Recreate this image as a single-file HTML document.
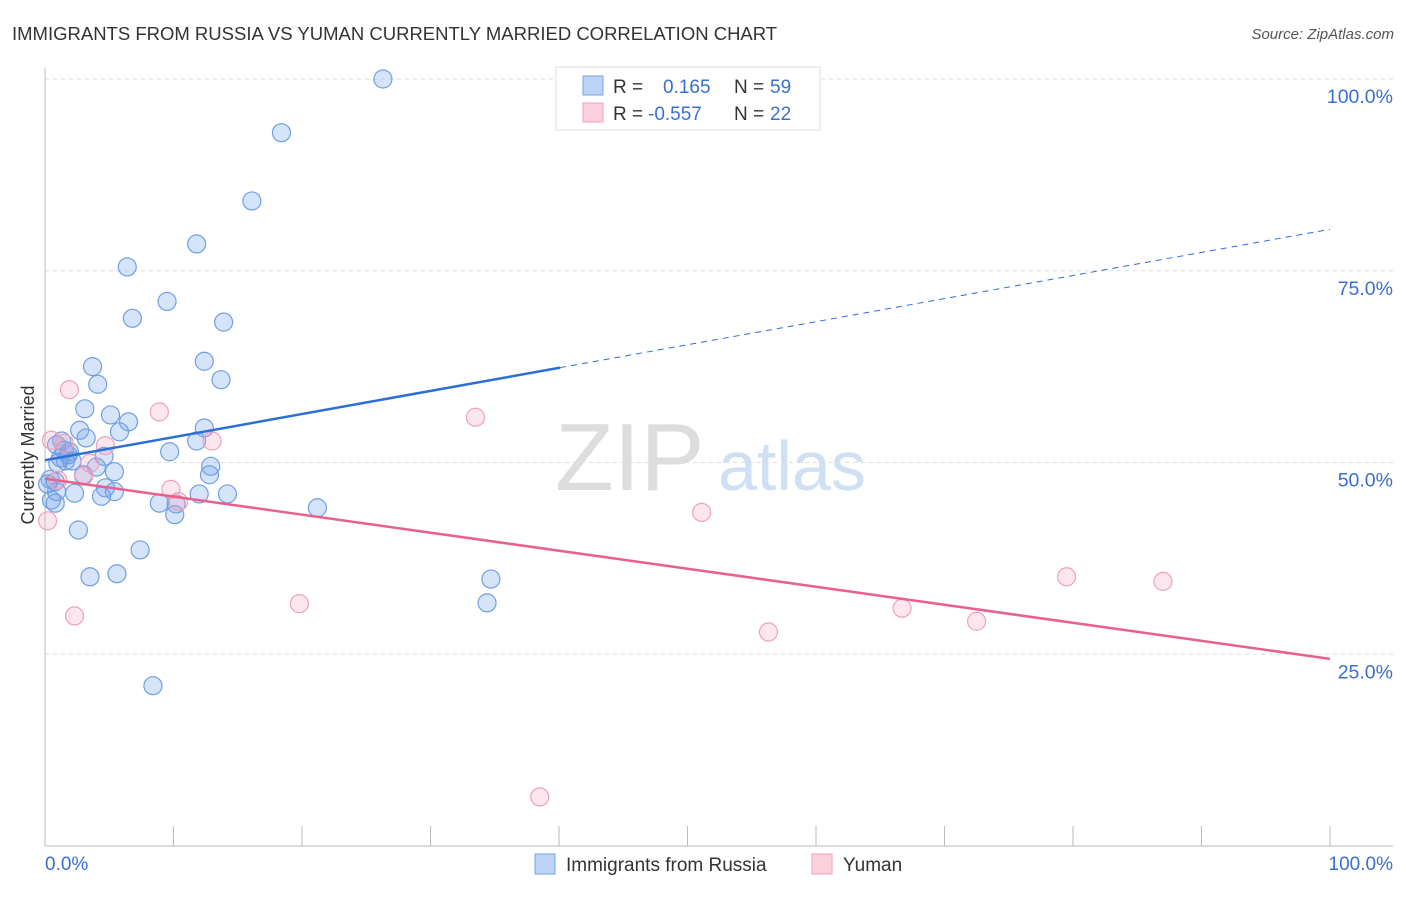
<!DOCTYPE html>
<html><head><meta charset="utf-8"><style>
body{margin:0;background:#fff;font-family:"Liberation Sans",sans-serif}
svg text{font-family:"Liberation Sans",sans-serif}
</style></head><body>
<svg id="c" width="1406" height="892">
<text x="12" y="40" font-size="18.5" fill="#333">IMMIGRANTS FROM RUSSIA VS YUMAN CURRENTLY MARRIED CORRELATION CHART</text>
<text x="1394" y="39" font-size="15" fill="#555" font-style="italic" text-anchor="end">Source: ZipAtlas.com</text>
<text x="555" y="490" font-size="96" fill="#ddd" font-family="Liberation Serif">ZIP</text>
<text x="718" y="490" font-size="70" fill="#cfe0f4">atlas</text>
<g id="grid"></g><g id="pts"></g><g id="lines"></g>
<text transform="translate(34,455) rotate(-90)" font-size="18" fill="#333" text-anchor="middle">Currently Married</text>
<text x="45" y="870" font-size="19" fill="#3a6fd0">0.0%</text>
<text x="1393" y="870" font-size="19" fill="#3a6fd0" text-anchor="end">100.0%</text>
<g>
<rect x="556" y="67" width="264" height="63" fill="#fff" stroke="#ddd"/>
<rect x="583" y="76" width="20" height="19" fill="#bcd4f4" stroke="#7aa4e4"/>
<rect x="583" y="103" width="20" height="19" fill="#fbd0dc" stroke="#f0a0b8"/>
<text x="613" y="93" font-size="19" fill="#333">R =</text><text x="663" y="93" font-size="19" fill="#3a6fd0">0.165</text>
<text x="734" y="93" font-size="19" fill="#333">N =</text><text x="770" y="93" font-size="19" fill="#3a6fd0">59</text>
<text x="613" y="120" font-size="19" fill="#333">R =</text><text x="648" y="120" font-size="19" fill="#3a6fd0">-0.557</text>
<text x="734" y="120" font-size="19" fill="#333">N =</text><text x="770" y="120" font-size="19" fill="#3a6fd0">22</text>
</g>
<g>
<rect x="535" y="854" width="20" height="20" fill="#bcd4f4" stroke="#7aa4e4"/>
<text x="566" y="871" font-size="19" fill="#333">Immigrants from Russia</text>
<rect x="812" y="854" width="20" height="20" fill="#fbd0dc" stroke="#f0a0b8"/>
<text x="843" y="871" font-size="19" fill="#333">Yuman</text>
</g>
</svg>
<script>
const blueX=[26.3,18.4,16.1,11.8,6.4,9.5,6.8,13.9,3.7,12.4,4.1,13.7,3.1,5.1,6.5,5.8,2.7,12.4,1.3,3.2,11.8,9.7,1.9,4.6,1.2,1.6,2.1,1.0,4.0,12.9,5.4,12.8,3.0,0.4,0.8,4.7,5.4,2.3,4.4,12.0,14.2,0.5,0.8,8.9,10.2,10.1,21.2,2.6,7.4,3.5,5.6,34.7,34.4,8.4,0.9,0.2,1.5,1.8,0.9];
const blueY=[100,93,84.1,78.5,75.5,71,68.8,68.3,62.5,63.2,60.2,60.8,57,56.2,55.3,54,54.2,54.5,52.8,53.2,52.8,51.4,51.4,50.8,50.6,50.2,50.2,49.9,49.4,49.5,48.8,48.4,48.4,47.8,47.5,46.7,46.2,46,45.6,45.9,45.9,45.1,44.7,44.7,44.6,43.2,44.1,41.2,38.6,35.1,35.5,34.8,31.7,20.9,46.2,47.2,51.6,51,52.3];
const pinkX=[0.2,1.9,8.9,33.5,4.7,13.0,0.5,1.5,3.5,3.0,1.0,9.8,10.4,51.1,19.8,2.3,56.3,66.7,72.5,79.5,87.0,38.5];
const pinkY=[42.4,59.5,56.6,55.9,52.2,52.8,52.9,52.5,49.9,48.2,47.7,46.5,44.9,43.5,31.6,30,27.9,31,29.3,35.1,34.5,6.4];
const blueTrend=[50.3,80.4], blueSolidEnd=40.1, pinkTrend=[47.9,24.4];
const yTicks=[25,50,75,100], xTicks=[0,10,20,30,40,50,60,70,80,90,100];
const NS='http://www.w3.org/2000/svg';
const sx=v=>45+v*12.85, sy=v=>846-v*7.67;
function mk(p,t,a){const e=document.createElementNS(NS,t);for(const k in a)e.setAttribute(k,a[k]);p.appendChild(e);return e;}
const g=document.getElementById('grid');
for(const t of yTicks){
 const l=mk(g,'line',{x1:45,x2:1393,y1:sy(t),y2:sy(t),stroke:'#ddd','stroke-dasharray':'4,4'});
 
 
 const tx=mk(g,'text',{x:1393,y:sy(t)+24,'font-size':19.5,fill:'#3a6fd0','text-anchor':'end'});tx.textContent=t.toFixed(1)+'%';
 
 
}
mk(g,'line',{x1:45,x2:45,y1:68,y2:846,stroke:'#bbb'});
mk(g,'line',{x1:45,x2:1393,y1:846,y2:846,stroke:'#bbb'});
for(const t of xTicks){const l=mk(g,'line',{x1:sx(t),x2:sx(t),y1:826,y2:846,stroke:'#bbb'});
 
 }
const P=document.getElementById('pts');
blueX.forEach((x,i)=>{const c=mk(P,'circle',{cx:sx(x),cy:sy(blueY[i]),r:9,fill:'rgba(120,165,235,0.3)',stroke:'#6f9fe3','stroke-width':1.2});
 
 });
pinkX.forEach((x,i)=>{const c=mk(P,'circle',{cx:sx(x),cy:sy(pinkY[i]),r:9,fill:'rgba(245,160,190,0.25)',stroke:'#f0a0b8','stroke-width':1.2});
 
 });
const L=document.getElementById('lines');
const by=x=>blueTrend[0]+(blueTrend[1]-blueTrend[0])*x/100;
let a=mk(L,'line',{x1:sx(0),y1:sy(by(0)),x2:sx(blueSolidEnd),y2:sy(by(blueSolidEnd)),stroke:'#2a6fd6','stroke-width':2.5});


a=mk(L,'line',{x1:sx(blueSolidEnd),y1:sy(by(blueSolidEnd)),x2:sx(100),y2:sy(by(100)),stroke:'#2a6fd6','stroke-width':1,'stroke-dasharray':'6,5'});


a=mk(L,'line',{x1:sx(0),y1:sy(pinkTrend[0]),x2:sx(100),y2:sy(pinkTrend[1]),stroke:'#e8608e','stroke-width':2.5});


</script>
</body></html>
